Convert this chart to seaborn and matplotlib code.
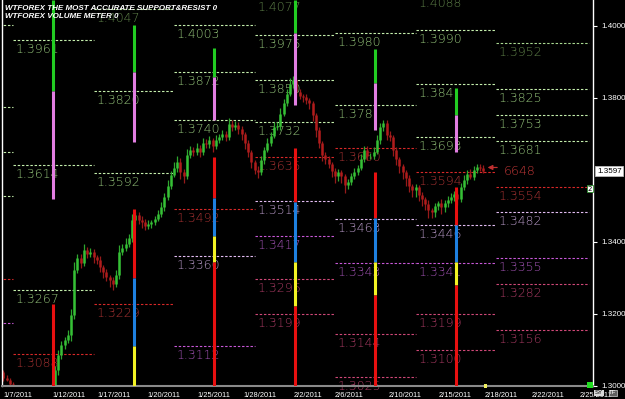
import numpy as np
import pandas as pd
import matplotlib
matplotlib.use("Agg")
import matplotlib.pyplot as plt
import seaborn as sns

# ---------------- data ----------------
# EURUSD-like closes, one bar per 1/5 trading day (bar index = x unit)
open0 = 1.3050
closes = [
    1.3039, 1.3022, 1.3017, 1.3006, 1.2989,
    1.2975, 1.2968, 1.2980, 1.2972, 1.2985,
    1.2978, 1.2990, 1.2982, 1.2988, 1.2995,
    1.2990, 1.3000, 1.3044, 1.3086, 1.3114,
    1.3128, 1.3142, 1.3197, 1.3322, 1.3356,
    1.3342, 1.3378, 1.3367, 1.3372, 1.3358,
    1.3350, 1.3331, 1.3317, 1.3303, 1.3294,
    1.3283, 1.3308, 1.3372, 1.3383, 1.3394,
    1.3411, 1.3461, 1.3475, 1.3461, 1.3456,
    1.3444, 1.3450, 1.3456, 1.3464, 1.3478,
    1.3497, 1.3525, 1.3556, 1.3586, 1.3606,
    1.3622, 1.3594, 1.3583, 1.3642, 1.3656,
    1.3650, 1.3661, 1.3650, 1.3675, 1.3672,
    1.3683, 1.3667, 1.3683, 1.3692, 1.3700,
    1.3692, 1.3728, 1.3719, 1.3725, 1.3714,
    1.3700, 1.3675, 1.3650, 1.3622, 1.3600,
    1.3594, 1.3628, 1.3656, 1.3675, 1.3694,
    1.3719, 1.3722, 1.3756, 1.3786, 1.3811,
    1.3839, 1.3850, 1.3817, 1.3806, 1.3803,
    1.3794, 1.3786, 1.3753, 1.3711, 1.3675,
    1.3642, 1.3631, 1.3617, 1.3597, 1.3583,
    1.3594, 1.3583, 1.3558, 1.3567, 1.3583,
    1.3594, 1.3606, 1.3631, 1.3656, 1.3639,
    1.3639, 1.3650, 1.3683, 1.3719, 1.3731,
    1.3697, 1.3692, 1.3656, 1.3631, 1.3611,
    1.3594, 1.3578, 1.3556, 1.3544, 1.3553,
    1.3531, 1.3519, 1.3506, 1.3489, 1.3483,
    1.3500, 1.3508, 1.3497, 1.3508, 1.3517,
    1.3525, 1.3533, 1.3519, 1.3553, 1.3572,
    1.3589, 1.3581, 1.3600, 1.3608, 1.3606,
    1.3597,
]
# upper / lower wick lengths in pips for each bar
wick_hi = [
    6, 5, 8, 4, 5, 4, 6, 3, 5, 4,
    6, 4, 5, 3, 6, 5, 8, 12, 15, 10,
    9, 14, 18, 22, 12, 10, 16, 8, 12, 9,
    7, 10, 6, 8, 5, 9, 14, 20, 11, 16,
    12, 18, 9, 7, 11, 8, 10, 6, 9, 12,
    14, 10, 16, 12, 15, 18, 10, 8, 16, 12,
    9, 14, 8, 13, 10, 12, 7, 15, 9, 11,
    8, 16, 10, 12, 7, 9, 6, 8, 5, 7,
    10, 12, 9, 14, 11, 13, 10, 15, 12, 14,
    16, 10, 7, 9, 6, 8, 7, 5, 6, 8,
    6, 9, 7, 5, 8, 10, 7, 6, 9, 8,
    11, 9, 14, 12, 10, 8, 13, 15, 12, 9,
    7, 10, 6, 8, 5, 7, 6, 8, 5, 9,
    6, 8, 7, 10, 6, 9, 7, 11, 8, 10,
    12, 9, 14, 10, 13, 11, 15, 12, 9, 10,
    8,
]
wick_lo = [
    5, 7, 4, 6, 8, 5, 4, 7, 5, 6,
    4, 6, 5, 7, 4, 6, 10, 8, 14, 12,
    10, 8, 16, 12, 9, 14, 8, 12, 10, 15,
    12, 14, 18, 10, 20, 16, 8, 10, 7, 9,
    8, 10, 14, 12, 16, 10, 8, 12, 9, 7,
    8, 10, 7, 9, 6, 12, 18, 20, 8, 10,
    12, 9, 14, 8, 10, 12, 16, 9, 8, 10,
    12, 8, 10, 9, 14, 16, 18, 14, 16, 12,
    15, 8, 10, 7, 9, 6, 8, 10, 7, 9,
    6, 12, 16, 10, 14, 12, 16, 18, 20, 15,
    18, 14, 12, 16, 20, 14, 18, 22, 12, 10,
    8, 9, 7, 10, 12, 9, 8, 6, 10, 12,
    14, 12, 18, 16, 20, 18, 22, 16, 20, 18,
    16, 20, 18, 22, 16, 14, 12, 18, 14, 12,
    10, 12, 16, 8, 9, 10, 7, 9, 8, 10,
    6,
]
last_price = "1.3597"
volume_text = "6648"

# weekly support / resistance levels
week_start = [-1, 4, 29, 54, 79, 104, 129, 154]
week_end = [4, 29, 54, 79, 104, 129, 154, 183]
week_levels = [
    ["1.4003", "1.3775", "1.3650", "1.3528", "1.3297", "1.3175"],
    ["1.3961", "1.3614", "1.3267", "1.3088"],
    ["1.4047", "1.3820", "1.3592", "1.3229"],
    ["1.4003", "1.3872", "1.3740", "1.3492", "1.3360", "1.3112"],
    ["1.4077", "1.3975", "1.3850", "1.3732", "1.3635", "1.3514", "1.3417", "1.3296", "1.3199"],
    ["1.3980", "1.378", "1.3660", "1.3463", "1.3343", "1.3144", "1.3025"],
    ["1.4088", "1.3990", "1.384", "1.3693", "1.3594", "1.3446", "1.3341", "1.3199", "1.3100"],
    ["1.3952", "1.3825", "1.3753", "1.3681", "1.3554", "1.3482", "1.3355", "1.3282", "1.3156"],
]
week_cats = [
    ["G", "G", "G", "G", "R", "M"],
    ["G", "G", "G", "R"],
    ["g", "G", "G", "R"],
    ["G", "G", "G", "R", "P", "M"],
    ["g", "G", "G", "G", "R", "P", "M", "K", "K"],
    ["G", "G", "R", "P", "M", "K", "K"],
    ["g", "G", "G", "G", "R", "P", "M", "K", "K"],
    ["g", "G", "G", "G", "R", "P", "M", "K", "K"],
]
week_show_labels = [False, True, True, True, True, True, True, True]

# volume meter bars (one per week)
meter_pos = [16.5, 41.5, 66.5, 91.5, 116.5, 141.5]
meter_green_top = [1.4072, 1.4003, 1.3939, 1.4072, 1.3936, 1.3828]
meter_green_bot = [1.3820, 1.3872, 1.3858, 1.3980, 1.3842, 1.3753]
meter_pink_bot = [1.3519, 1.3678, 1.3739, 1.3781, 1.3711, 1.3650]
meter_low_edges = [
    [1.3229, 1.3000],
    [1.3492, 1.3300, 1.3112, 1.3000],
    [1.3635, 1.3522, 1.3417, 1.3345, 1.3000],
    [1.3661, 1.3511, 1.3345, 1.3222, 1.3000],
    [1.3594, 1.3467, 1.3344, 1.3253, 1.3000],
    [1.3554, 1.3447, 1.3344, 1.3281, 1.3000],
]
meter_low_colors = [
    ["red"],
    ["red", "blue", "yellow"],
    ["red", "blue", "yellow", "red"],
    ["red", "blue", "yellow", "red"],
    ["red", "blue", "yellow", "red"],
    ["red", "blue", "yellow", "red"],
]

date_pos = [0.9, 16.4, 30.1, 45.9, 61.2, 75.4, 91.0, 104.0, 120.5, 136.3, 150.6, 165.2, 180.1]
date_labels = ["1/7/2011", "1/12/2011", "1/17/2011", "1/20/2011", "1/25/2011", "1/28/2011",
               "2/2/2011", "2/6/2011", "2/10/2011", "2/15/2011", "2/18/2011", "2/22/2011", "2/25/2011"]
price_ticks = [1.30, 1.32, 1.34, 1.38, 1.40]

# ---------------- style ----------------
line_col = {"G": "#c4eeac", "g": "#a8d890", "R": "#d82828", "P": "#e2bcf2",
            "M": "#c858d8", "K": "#d04878"}
text_col = {"G": "#94c47a", "g": "#5e8048", "R": "#a83232", "P": "#b89ac8",
            "M": "#a052b2", "K": "#a83a62"}
meter_col = {"green": "#22cc22", "pink": "#e27ee2", "red": "#e81010",
             "blue": "#1e80e0", "yellow": "#f2f224"}

sns.set_theme(style="dark", rc={"axes.facecolor": "black", "figure.facecolor": "black"})
plt.rcParams["font.family"] = ["DejaVu Sans"]
narrow = ["Liberation Sans", "DejaVu Sans"]

W, H = 625, 399
fig = plt.figure(figsize=(W / 100, H / 100), dpi=100)
ax = fig.add_axes([2 / W, 13 / H, 591 / W, 386 / H])
ax.set_facecolor("black")
ax.set_xlim(0.584, 184.1)
ax.set_ylim(1.3000, 1.40722)

# levels via seaborn
rows = []
seg = 0
for w in range(len(week_start)):
    for lab, cat in zip(week_levels[w], week_cats[w]):
        v = float(lab)
        rows.append((week_start[w], v, seg, cat))
        rows.append((week_end[w], v, seg, cat))
        seg += 1
lev = pd.DataFrame(rows, columns=["x", "price", "seg", "cat"])
sns.lineplot(data=lev, x="x", y="price", hue="cat", style="cat", units="seg",
             estimator=None, sort=False, palette=line_col,
             dashes={c: (2.2, 1.6) for c in line_col}, lw=0.8, legend=False,
             ax=ax, zorder=1)

for w in range(len(week_start)):
    if not week_show_labels[w]:
        continue
    for lab, cat in zip(week_levels[w], week_cats[w]):
        ax.annotate(lab, (week_start[w], float(lab)), xytext=(3, -3),
                    textcoords="offset pixels", ha="left", va="top",
                    color=text_col[cat], fontsize=9, fontweight="light",
                    annotation_clip=False, zorder=1.5)

# candles
c = np.array(closes)
o = np.concatenate([[open0], c[:-1]])
hi = np.maximum(o, c) + np.array(wick_hi) * 1e-4
lo = np.minimum(o, c) - np.array(wick_lo) * 1e-4
idx = np.arange(len(c))
up = c >= o
ax.vlines(idx[up], lo[up], hi[up], colors="#2ea62e", lw=0.9, zorder=2)
ax.vlines(idx[~up], lo[~up], hi[~up], colors="#961a1a", lw=0.9, zorder=2)
ax.vlines(idx[up], o[up], c[up], colors="#36c036", lw=1.8, zorder=2.1)
ax.vlines(idx[~up], c[~up], o[~up], colors="#b01c1c", lw=1.8, zorder=2.1)

# meters
for k, xm in enumerate(meter_pos):
    ax.vlines(xm, meter_green_bot[k], meter_green_top[k], colors=meter_col["green"], lw=2.2, zorder=3)
    ax.vlines(xm, meter_pink_bot[k], meter_green_bot[k], colors=meter_col["pink"], lw=2.2, zorder=3)
    edges = meter_low_edges[k]
    for j, cname in enumerate(meter_low_colors[k]):
        ax.vlines(xm, edges[j + 1], edges[j], colors=meter_col[cname], lw=2.2, zorder=3)

# axes styling
ax.spines["top"].set_visible(False)
ax.spines["left"].set_color("white")
ax.spines["left"].set_linewidth(1.0)
ax.spines["right"].set_color("white")
ax.spines["right"].set_linewidth(1.0)
ax.spines["bottom"].set_color("#8a8a8a")
ax.spines["bottom"].set_linewidth(1.5)
ax.grid(False)
ax.set_xlabel("")
ax.set_ylabel("")

ax.yaxis.tick_right()
ax.set_yticks(price_ticks)
ax.set_yticklabels([f"{t:.4f}" for t in price_ticks], color="white", fontsize=5.8, family=narrow)
ax.tick_params(axis="y", direction="out", length=3, width=0.8, color="white", pad=3)

ax.set_xticks(date_pos)
ax.set_xticklabels(date_labels, color="white", fontsize=5.4, family=narrow, ha="left")
ax.tick_params(axis="x", direction="out", length=3, width=0.8, color="#8a8a8a", pad=1)

# last price box
ax.annotate(last_price, (1.0, float(last_price)), xycoords=("axes fraction", "data"),
            xytext=(4, 0), textcoords="offset pixels", ha="left", va="center",
            fontsize=5.8, family=narrow, color="black",
            bbox=dict(boxstyle="square,pad=0.2", fc="white", ec="#bbbbbb", lw=0.6),
            annotation_clip=False)
# volume meter text with arrow
ax.annotate("", xy=(len(c) - 0.5, float(last_price) + 0.0010), xytext=(len(c) + 4.2, float(last_price) + 0.0010),
            arrowprops=dict(arrowstyle="-|>", color="#c03030", lw=0.9, mutation_scale=7),
            annotation_clip=False, zorder=4)
ax.annotate(volume_text, (len(c) + 5.5, float(last_price)), ha="left", va="center",
            color="#c43838", fontsize=9, fontweight="light", zorder=4)
# small "2" box on the 1.3554 line
ax.annotate("2", (1.0, 1.3548), xycoords=("axes fraction", "data"), xytext=(-3, 0),
            textcoords="offset pixels", ha="center", va="center", fontsize=5, color="black",
            bbox=dict(boxstyle="square,pad=0.1", fc="white", ec="#2a8a2a", lw=0.6),
            annotation_clip=False, zorder=5)

# titles
fig.text(5 / W, 1 - 8 / H, "WTFOREX THE MOST ACCURATE SUPPORT&RESIST 0", color="white",
         fontsize=5.8, fontweight="bold", fontstyle="italic", family=narrow, va="center", ha="left")
fig.text(5 / W, 1 - 17 / H, "WTFOREX VOLUME METER 0", color="white",
         fontsize=5.8, fontweight="bold", fontstyle="italic", family=narrow, va="center", ha="left")

# bottom-right small widgets
fig.patches.append(plt.Rectangle((587 / W, (H - 388) / H), 6 / W, 6 / H, transform=fig.transFigure,
                                 fc="#22dd22", ec="none"))
fig.patches.append(plt.Rectangle((484 / W, (H - 388) / H), 3 / W, 4 / H, transform=fig.transFigure,
                                 fc="#f0f060", ec="none"))
fig.text(599 / W, 1 - 393 / H, "SY", fontsize=4.3, color="black", family=narrow, ha="center", va="center",
         bbox=dict(boxstyle="square,pad=0.1", fc="#d8d8d8", ec="none"))
fig.text(613 / W, 1 - 393 / H, "TF", fontsize=4.3, color="white", family=narrow, ha="center", va="center",
         bbox=dict(boxstyle="square,pad=0.1", fc="#606060", ec="#d0d0d0", lw=0.5))

fig.savefig("out.png", dpi=100, facecolor="black")
